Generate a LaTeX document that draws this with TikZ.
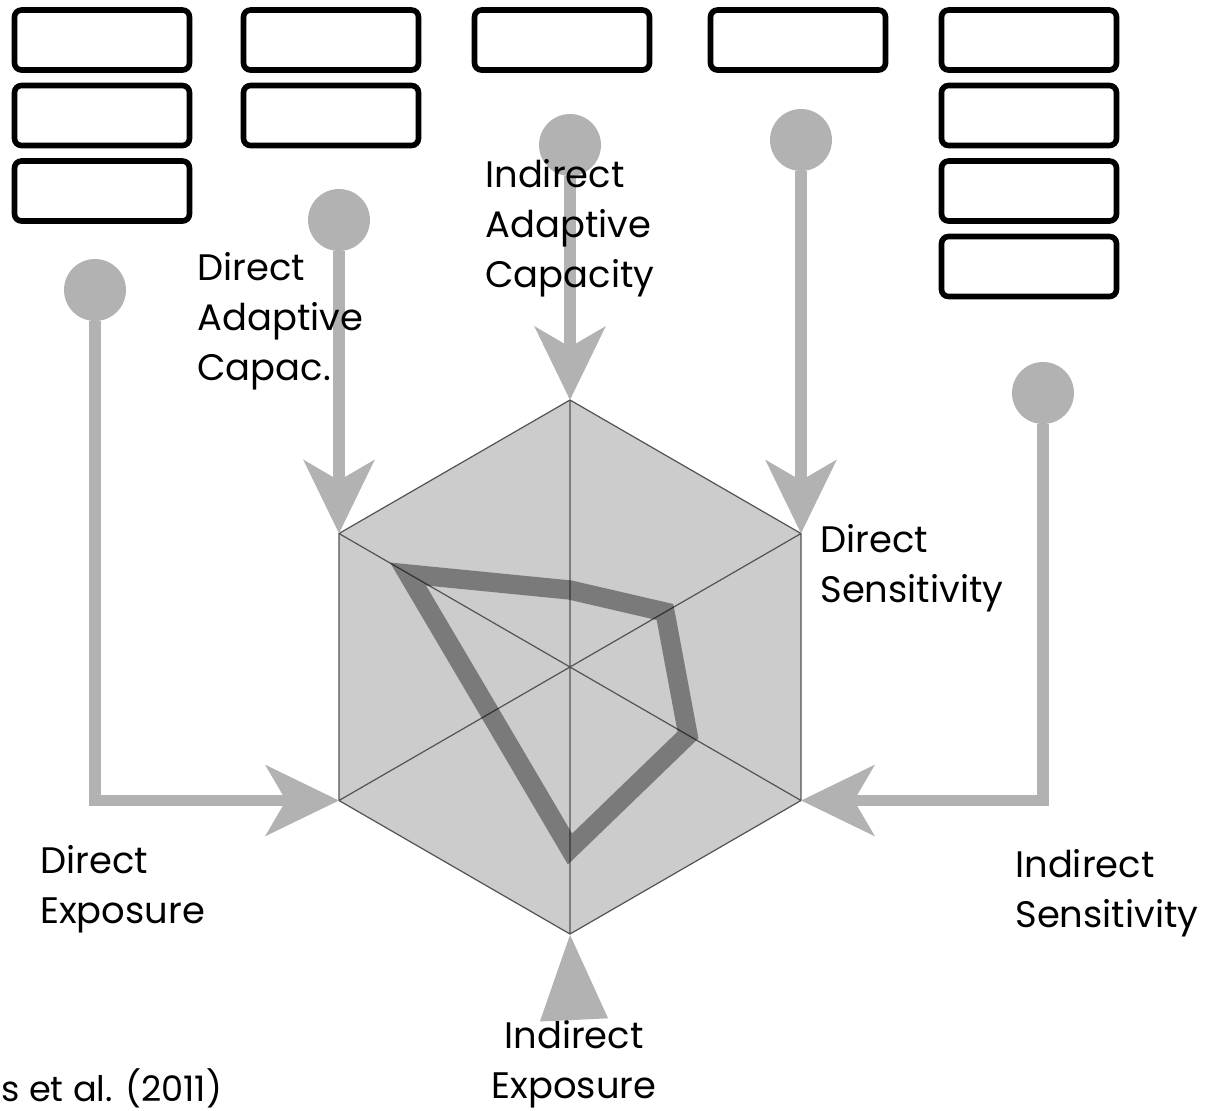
\documentclass[tikz,border=0pt]{standalone}
\usepackage{fontspec}
\setmainfont{Poppins}
\usetikzlibrary{arrows.meta, calc, positioning}

\definecolor{pingray}{HTML}{B2B2B2}
\definecolor{hexfill}{HTML}{CCCCCC}
\definecolor{hexline}{HTML}{555555}

\begin{document}
\begin{tikzpicture}[x=0.02cm, y=-0.02cm, >={Stealth[length=1.46cm, width=1.4cm, inset=0.4cm]}]
	\tikzstyle{slot} = [draw, line width=3.2pt, rounded corners=4pt, minimum width=3.5cm, minimum height=1.2cm, inner sep=0pt]
	\tikzstyle{pin} = [circle, fill=pingray, minimum size=1.24cm, inner sep=0pt]
	\tikzstyle{wire} = [draw=pingray, line width=6.5pt]
	\tikzstyle{lbl} = [align=left, inner sep=0pt, anchor=north west, font=\fontsize{21}{28.5}\selectfont]
	\tikzstyle{score} = [draw=black, opacity=0.4, line width=11pt]

	\useasboundingbox (0,0) rectangle (1214,1110);

	% hexagon corners
	\coordinate (iac) at (570,400);
	\coordinate (ds)  at (801,533.5);
	\coordinate (is)  at (801,800.5);
	\coordinate (ie)  at (570,934);
	\coordinate (de)  at (339,800.5);
	\coordinate (dac) at (339,533.5);

	\fill[hexfill] (iac) -- (ds) -- (is) -- (ie) -- (de) -- (dac) -- cycle;
	\draw[hexline, line width=0.7pt] (iac) -- (ds) -- (is) -- (ie) -- (de) -- (dac) -- cycle
		(iac) -- (ie) (dac) -- (is) (ds) -- (de);

	% scores on the six axes
	\draw[score] (408,574) -- (570,590) -- (665,612) -- (688,735) -- (570,849) -- (490,713) -- cycle;

	% pins
	\node[pin] (pde)  at (95,290) {};
	\node[pin] (pdac) at (339,220) {};
	\node[pin] (piac) at (570,145) {};
	\node[pin] (pds)  at (801,140) {};
	\node[pin] (pis)  at (1043,393) {};

	\draw[wire, ->] (pde) |- (de);
	\draw[wire, ->] (pdac) -- (dac);
	\draw[wire, ->] (piac) -- (iac);
	\draw[wire, ->] (pds) -- (ds);
	\draw[wire, ->] (pis) |- (is);

	% empty boxes
	\foreach \x/\n in {102/3, 331/2, 562/1, 798/1, 1029/4}
		\foreach \r in {1,...,\n}
			\node[slot] (box-\x-\r) at (\x,{40+75.5*(\r-1)}) {};

	% labels
	\node[lbl] (ldac) at (197,252) {Direct\\Adaptive\\Capac.};
	\node[lbl] (liac) at (485,159) {Indirect\\Adaptive\\Capacity};
	\node[lbl] (lds)  at (820,524) {Direct\\Sensitivity};
	\node[lbl] (lis)  at (1015,849) {Indirect\\Sensitivity};
	\node[lbl] (lde)  at (40,845) {Direct\\Exposure};
	\node[lbl, align=center, anchor=north] (lie) at (574,1020) {Indirect\\Exposure};
	\node[lbl, font=\fontsize{20}{24}\selectfont] (cite) at (1,1068) {s et al. (2011)};

	\draw[wire, -{Stealth[length=1.72cm, width=1.3cm, inset=0pt]}] (lie.north) -- (ie);
\end{tikzpicture}
\end{document}
